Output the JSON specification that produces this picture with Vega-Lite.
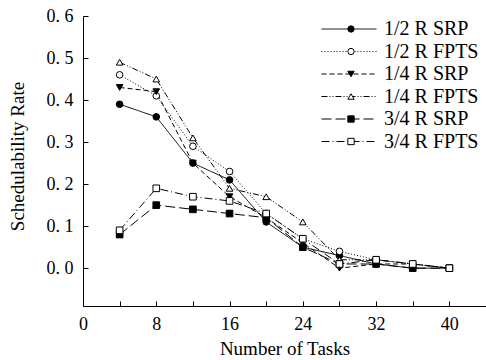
{
  "$schema": "https://vega.github.io/schema/vega-lite/v6.json",
  "autosize": "none",
  "width": 403,
  "height": 290,
  "padding": {"left": 83, "top": 16, "right": 0, "bottom": 54},
  "background": "white",
  "config": {
    "view": {"stroke": null},
    "font": "Liberation Serif",
    "axis": {"grid": false, "domainColor": "black", "tickColor": "black", "labelColor": "black", "titleColor": "black", "labelFont": "Liberation Serif", "titleFont": "Liberation Serif", "titleFontWeight": "normal", "labelFontSize": 18, "titleFontSize": 19, "domainWidth": 1, "tickWidth": 1}
  },
  "data": {
    "values": [
      {"tasks": 4, "series": "1/2 R SRP", "rate": 0.39},
      {"tasks": 8, "series": "1/2 R SRP", "rate": 0.36},
      {"tasks": 12, "series": "1/2 R SRP", "rate": 0.25},
      {"tasks": 16, "series": "1/2 R SRP", "rate": 0.21},
      {"tasks": 20, "series": "1/2 R SRP", "rate": 0.11},
      {"tasks": 24, "series": "1/2 R SRP", "rate": 0.05},
      {"tasks": 28, "series": "1/2 R SRP", "rate": 0.03},
      {"tasks": 32, "series": "1/2 R SRP", "rate": 0.01},
      {"tasks": 36, "series": "1/2 R SRP", "rate": 0.0},
      {"tasks": 40, "series": "1/2 R SRP", "rate": 0.0},
      {"tasks": 4, "series": "1/2 R FPTS", "rate": 0.46},
      {"tasks": 8, "series": "1/2 R FPTS", "rate": 0.41},
      {"tasks": 12, "series": "1/2 R FPTS", "rate": 0.29},
      {"tasks": 16, "series": "1/2 R FPTS", "rate": 0.23},
      {"tasks": 20, "series": "1/2 R FPTS", "rate": 0.13},
      {"tasks": 24, "series": "1/2 R FPTS", "rate": 0.07},
      {"tasks": 28, "series": "1/2 R FPTS", "rate": 0.04},
      {"tasks": 32, "series": "1/2 R FPTS", "rate": 0.02},
      {"tasks": 36, "series": "1/2 R FPTS", "rate": 0.01},
      {"tasks": 40, "series": "1/2 R FPTS", "rate": 0.0},
      {"tasks": 4, "series": "1/4 R SRP", "rate": 0.43},
      {"tasks": 8, "series": "1/4 R SRP", "rate": 0.42},
      {"tasks": 12, "series": "1/4 R SRP", "rate": 0.25},
      {"tasks": 16, "series": "1/4 R SRP", "rate": 0.17},
      {"tasks": 20, "series": "1/4 R SRP", "rate": 0.12},
      {"tasks": 24, "series": "1/4 R SRP", "rate": 0.06},
      {"tasks": 28, "series": "1/4 R SRP", "rate": 0.0},
      {"tasks": 32, "series": "1/4 R SRP", "rate": 0.01},
      {"tasks": 36, "series": "1/4 R SRP", "rate": 0.01},
      {"tasks": 40, "series": "1/4 R SRP", "rate": 0.0},
      {"tasks": 4, "series": "1/4 R FPTS", "rate": 0.49},
      {"tasks": 8, "series": "1/4 R FPTS", "rate": 0.45},
      {"tasks": 12, "series": "1/4 R FPTS", "rate": 0.31},
      {"tasks": 16, "series": "1/4 R FPTS", "rate": 0.19},
      {"tasks": 20, "series": "1/4 R FPTS", "rate": 0.17},
      {"tasks": 24, "series": "1/4 R FPTS", "rate": 0.11},
      {"tasks": 28, "series": "1/4 R FPTS", "rate": 0.02},
      {"tasks": 32, "series": "1/4 R FPTS", "rate": 0.02},
      {"tasks": 36, "series": "1/4 R FPTS", "rate": 0.01},
      {"tasks": 40, "series": "1/4 R FPTS", "rate": 0.0},
      {"tasks": 4, "series": "3/4 R SRP", "rate": 0.08},
      {"tasks": 8, "series": "3/4 R SRP", "rate": 0.15},
      {"tasks": 12, "series": "3/4 R SRP", "rate": 0.14},
      {"tasks": 16, "series": "3/4 R SRP", "rate": 0.13},
      {"tasks": 20, "series": "3/4 R SRP", "rate": 0.12},
      {"tasks": 24, "series": "3/4 R SRP", "rate": 0.05},
      {"tasks": 28, "series": "3/4 R SRP", "rate": 0.01},
      {"tasks": 32, "series": "3/4 R SRP", "rate": 0.01},
      {"tasks": 36, "series": "3/4 R SRP", "rate": 0.0},
      {"tasks": 40, "series": "3/4 R SRP", "rate": 0.0},
      {"tasks": 4, "series": "3/4 R FPTS", "rate": 0.09},
      {"tasks": 8, "series": "3/4 R FPTS", "rate": 0.19},
      {"tasks": 12, "series": "3/4 R FPTS", "rate": 0.17},
      {"tasks": 16, "series": "3/4 R FPTS", "rate": 0.16},
      {"tasks": 20, "series": "3/4 R FPTS", "rate": 0.13},
      {"tasks": 24, "series": "3/4 R FPTS", "rate": 0.07},
      {"tasks": 28, "series": "3/4 R FPTS", "rate": 0.01},
      {"tasks": 32, "series": "3/4 R FPTS", "rate": 0.02},
      {"tasks": 36, "series": "3/4 R FPTS", "rate": 0.01},
      {"tasks": 40, "series": "3/4 R FPTS", "rate": 0.0}
    ]
  },
  "encoding": {
    "x": {
      "field": "tasks", "type": "quantitative",
      "scale": {"domain": [0, 44], "nice": false, "zero": false},
      "axis": {"title": "Number of Tasks", "values": [0, 4, 8, 12, 16, 20, 24, 28, 32, 36, 40, 44], "labelExpr": "datum.value % 8 == 0 && datum.value < 44 ? datum.value : ''", "tickSize": -5, "labelPadding": 14, "titlePadding": 6, "labelFlush": false, "labelOverlap": false}
    },
    "y": {
      "field": "rate", "type": "quantitative",
      "scale": {"domain": [-0.09, 0.6], "nice": false, "zero": false},
      "axis": {"title": "Schedulability Rate", "values": [0, 0.1, 0.2, 0.3, 0.4, 0.5, 0.6], "labelExpr": "replace(format(datum.value, '.1f'), '.', '. ')", "tickSize": -5, "labelPadding": 15, "titlePadding": 19, "titleY": 140, "labelFlush": false, "labelOverlap": false}
    }
  },
  "layer": [
    {
      "mark": {"type": "line", "color": "black", "strokeWidth": 1},
      "encoding": {
        "strokeDash": {
          "field": "series", "type": "nominal",
          "sort": ["1/2 R SRP", "1/2 R FPTS", "1/4 R SRP", "1/4 R FPTS", "3/4 R SRP", "3/4 R FPTS"],
          "scale": {
            "range": [[1, 0], [1, 2], [5, 3], [6, 2, 1, 2, 1, 2], [10, 4], [8, 3, 1, 3]]
          },
          "legend": {
            "title": null, "orient": "none", "legendX": 256, "legendY": 3, "padding": 0,
            "symbolType": "M-5,0H5", "symbolSize": 121, "symbolStrokeWidth": 1, "symbolStrokeColor": "black", "symbolFillColor": "transparent",
            "labelFont": "Liberation Serif", "labelFontSize": 20, "labelColor": "black", "labelOffset": 25, "rowPadding": 2.5, "labelLimit": 300
          }
        }
      }
    },
    {
      "mark": {"type": "point", "stroke": "black", "strokeWidth": 1, "size": 44, "opacity": 1},
      "encoding": {
        "shape": {
          "field": "series", "type": "nominal",
          "scale": {"domain": ["1/2 R SRP", "1/2 R FPTS", "1/4 R SRP", "1/4 R FPTS", "3/4 R SRP", "3/4 R FPTS"], "range": ["circle", "circle", "triangle-down", "triangle-up", "square", "square"]},
          "legend": {
            "title": null, "orient": "none", "legendX": 258, "legendY": 3, "padding": 0,
            "symbolSize": 40, "symbolStrokeColor": "black", "symbolStrokeWidth": 1, "symbolOpacity": 1,
            "labelExpr": "''", "labelFontSize": 20, "labelOffset": 0, "rowPadding": 2.5,
            "encode": {"symbols": {"update": {"stroke": {"value": "black"}, "strokeWidth": {"value": 1}}}}
          }
        },
        "fill": {
          "field": "series", "type": "nominal",
          "scale": {"domain": ["1/2 R SRP", "1/2 R FPTS", "1/4 R SRP", "1/4 R FPTS", "3/4 R SRP", "3/4 R FPTS"], "range": ["black", "white", "black", "white", "black", "white"]},
          "legend": {
            "title": null, "orient": "none", "legendX": 258, "legendY": 3, "padding": 0,
            "symbolSize": 40, "symbolStrokeColor": "black", "symbolStrokeWidth": 1, "symbolOpacity": 1,
            "labelExpr": "''", "labelFontSize": 20, "labelOffset": 0, "rowPadding": 2.5,
            "encode": {"symbols": {"update": {"stroke": {"value": "black"}, "strokeWidth": {"value": 1}}}}
          }
        }
      }
    }
  ]
}
